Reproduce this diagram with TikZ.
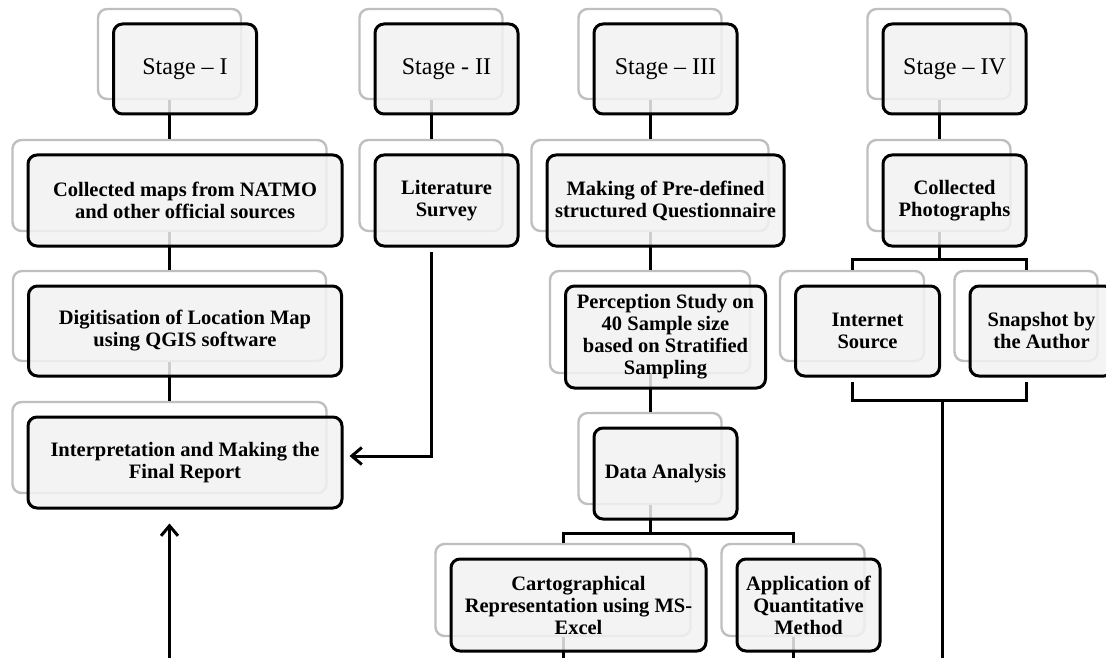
\documentclass[tikz,border=0pt]{standalone}
\usepackage{fontspec}
\setmainfont{Liberation Serif}
\usepackage{tikz}
\usetikzlibrary{arrows.meta,calc}

\begin{document}
\begin{tikzpicture}[x=1pt, y=-1pt,
	backbox/.style={draw=gray!50, line width=2.4pt, rounded corners=9, fill=white, minimum width=143, minimum height=90, inner sep=0},
	frontbox/.style={draw, line width=3pt, rounded corners=9, fill=gray!10, fill opacity=0.85, text opacity=1, minimum width=143, minimum height=90, inner sep=0, align=center, font=\bfseries\fontsize{20.5}{22}\selectfont},
	stagebox/.style={frontbox, font=\fontsize{24}{28}\selectfont},
	conn/.style={line width=3pt},
	arr/.style={conn, -{Straight Barb[length=10pt,width=17pt]}}
]
\useasboundingbox (0,0) rectangle (1106,658);
\clip (0,0) rectangle (1106,658);

% shadow boxes
\node[backbox] (st1b) at (169.5,54) {};
\node[backbox] (st2b) at (431,54) {};
\node[backbox] (st3b) at (650,54) {};
\node[backbox] (st4b) at (939,54) {};
\node[backbox, minimum width=314, minimum height=91] (mapsb) at (169.5,185.5) {};
\node[backbox, minimum height=91] (litb) at (431,185.5) {};
\node[backbox, minimum width=237, minimum height=91] (questb) at (650,185.5) {};
\node[backbox, minimum height=91] (photob) at (939,185.5) {};
\node[backbox, minimum width=313] (digitb) at (169.5,316) {};
\node[backbox, minimum width=200, minimum height=102] (percepb) at (650,322) {};
\node[backbox, minimum width=144] (inetb) at (852,316) {};
\node[backbox] (snapb) at (1026,316) {};
\node[backbox, minimum width=314, minimum height=91] (interpb) at (169.5,447.5) {};
\node[backbox, minimum height=91] (datab) at (650,458.5) {};
\node[backbox, minimum width=255, minimum height=92] (cartob) at (563,590) {};
\node[backbox, minimum height=92] (applb) at (793,590) {};

\coordinate (base) at (0,670);
\coordinate (pjoin) at (942,400);

% connectors
\draw[conn] (st1b) -- (mapsb);
\draw[conn] (mapsb) -- (digitb);
\draw[conn] (digitb) -- (interpb);
\draw[conn] (st2b) -- (litb);
\draw[conn] (st3b) -- (questb);
\draw[conn] (questb) -- (percepb);
\draw[conn] (percepb) -- (datab);
\draw[conn] (st4b) -- (photob);
\draw[conn] (photob.south) -- ++(0,27) coordinate (pfork);
\draw[conn] (inetb.north) |- (pfork) -| (snapb.north);
\draw[conn] (datab.south) -- ++(0,28) coordinate (dfork);
\draw[conn] (cartob.north) |- (dfork) -| (applb.north);
\draw[conn] ([yshift=-20pt]inetb.south) |- (pjoin) -| ([yshift=-20pt]snapb.south);
\draw[conn] (pjoin) -- (pjoin |- base);
\draw[conn] (cartob.south) -- (cartob |- base);
\draw[conn] (applb.south) -- (applb |- base);

% boxes
\node[stagebox] (st1) at (185,69) {Stage – I};
\node[stagebox] (st2) at (446.5,69) {Stage - II};
\node[stagebox] (st3) at (665.5,69) {Stage – III};
\node[stagebox] (st4) at (954.5,69) {Stage – IV};
\node[frontbox, minimum width=314, minimum height=91] (maps) at (185,200.5) {Collected maps from NATMO\\and other official sources};
\node[frontbox, minimum height=91] (lit) at (446.5,200.5) {Literature\\Survey};
\node[frontbox, minimum width=237, minimum height=91] (quest) at (665.5,200.5) {Making of Pre-defined\\structured Questionnaire};
\node[frontbox, minimum height=91] (photo) at (954.5,200.5) {Collected\\Photographs};
\node[frontbox, minimum width=313] (digit) at (185,331) {Digitisation of Location Map\\using QGIS software};
\node[frontbox, minimum width=200, minimum height=102] (percep) at (665.5,337) {Perception Study on\\40 Sample size\\based on Stratified\\Sampling};
\node[frontbox, minimum width=144] (inet) at (867.5,331) {Internet\\Source};
\node[frontbox] (snap) at (1041.5,331) {Snapshot by\\the Author};
\node[frontbox, minimum width=314, minimum height=91] (interp) at (185,462.5) {Interpretation and Making the\\Final Report};
\node[frontbox, minimum height=91] (data) at (665.5,473.5) {Data Analysis};
\node[frontbox, minimum width=255, minimum height=92] (carto) at (578.5,605) {Cartographical\\Representation using MS-\\Excel};
\node[frontbox, minimum height=92] (appl) at (808.5,605) {Application of\\Quantitative\\Method};

% arrows into the report
\coordinate (rtip) at ([yshift=-14pt]interp.south);
\draw[arr] ([yshift=-20pt]litb.south) |- ([xshift=6pt,yshift=6.5pt]interp.east);
\draw[arr] (interpb.south |- base) -- (interpb.south |- rtip);
\end{tikzpicture}
\end{document}
